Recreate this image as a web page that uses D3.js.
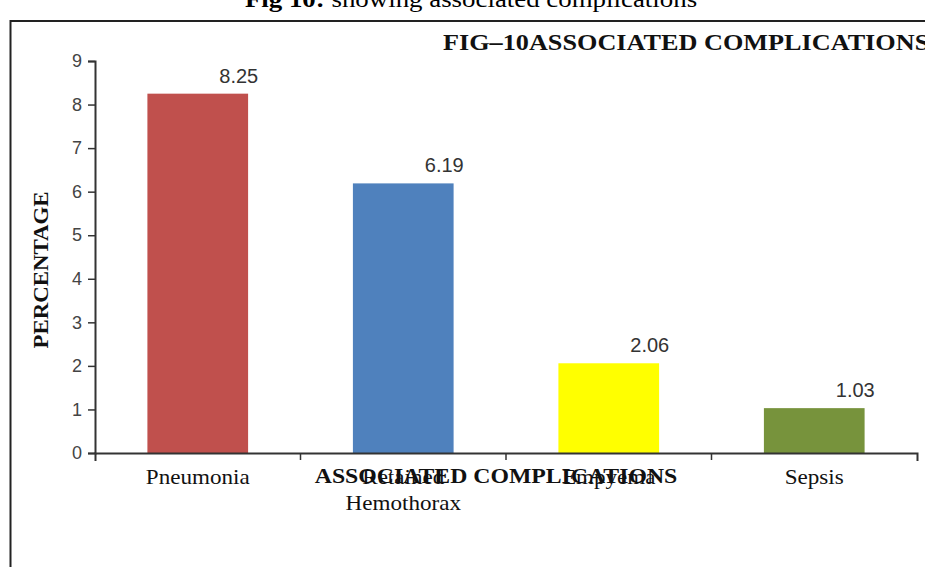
<!DOCTYPE html>
<html>
<head>
<meta charset="utf-8">
<script src="https://cdn.jsdelivr.net/npm/d3@7"></script>
<style>
  html, body { margin: 0; padding: 0; background: #fff; }
  svg { display: block; }
</style>
</head>
<body>
<script>
// Associated complications, percentage of cases
const categories = ["Pneumonia", "Retained Hemothorax", "Empyema", "Sepsis"];
const categoryLines = [["Pneumonia"], ["Retained", "Hemothorax"], ["Empyema"], ["Sepsis"]];
const values = [8.25, 6.19, 2.06, 1.03];
const valueLabels = ["8.25", "6.19", "2.06", "1.03"];
const barColors = ["#C0504D", "#4F81BD", "#FFFF00", "#77933C"];
const yTicks = [0, 1, 2, 3, 4, 5, 6, 7, 8, 9];

const W = 925, H = 567;
const svg = d3.select("body").append("svg").attr("width", W).attr("height", H);

const serif = "'Liberation Serif', 'Times New Roman', serif";
const sans = "'Liberation Sans', Arial, sans-serif";

// Serif text drawn slightly widened, as in the printed figure
function wideText(parent, px, py, size, sx, opts = {}) {
  return parent.append("text")
    .attr("transform", `translate(${px},${py})${opts.rotate ? " rotate(" + opts.rotate + ")" : ""} scale(${sx},1)`)
    .attr("text-anchor", opts.anchor || "middle")
    .attr("font-family", serif)
    .attr("font-size", size)
    .attr("font-weight", opts.bold ? "bold" : "normal")
    .attr("fill", opts.fill || "#111");
}

// Caption above the frame
const cap = wideText(svg, 471, 7, 24, 1.12, { fill: "#000" });
cap.append("tspan").attr("font-weight", "bold").text("Fig 10:");
cap.append("tspan").text(" showing associated complications");

// Frame
svg.append("path")
  .attr("d", "M10.5,567V21H925")
  .attr("fill", "none").attr("stroke", "#222").attr("stroke-width", 2);

// Scales
const x = d3.scaleBand().domain(categories).range([95, 917]).paddingInner(0).paddingOuter(0);
const y = d3.scaleLinear().domain([0, 9]).range([453, 61]);
const barW = x.bandwidth() * 0.49;

// Bars
svg.append("g").selectAll("rect").data(categories).join("rect")
  .attr("x", (d) => x(d) + (x.bandwidth() - barW) / 2)
  .attr("y", (d, i) => y(values[i]))
  .attr("width", barW)
  .attr("height", (d, i) => y(0) - y(values[i]))
  .attr("fill", (d, i) => barColors[i]);

// Value labels
svg.append("g").selectAll("text").data(categories).join("text")
  .attr("x", (d) => x(d) + x.bandwidth() / 2 + 41)
  .attr("y", (d, i) => y(values[i]) - 11)
  .attr("text-anchor", "middle")
  .attr("font-family", sans).attr("font-size", 20).attr("fill", "#333")
  .text((d, i) => valueLabels[i]);

// Y axis
const yAxis = svg.append("g").attr("transform", "translate(95,0)")
  .call(d3.axisLeft(y).tickValues(yTicks).tickFormat(d3.format("d")).tickSize(7).tickSizeOuter(7).tickPadding(6));
yAxis.select(".domain").attr("stroke", "#333").attr("stroke-width", 2);
yAxis.selectAll(".tick line").attr("stroke", "#333").attr("stroke-width", 1.5);
yAxis.selectAll(".tick text").attr("font-family", sans).attr("font-size", 18).attr("fill", "#444");

// X axis with dividing ticks between categories
const xAxis = svg.append("g").attr("transform", "translate(0,453)")
  .call(d3.axisBottom(x).tickValues([]).tickSizeOuter(8));
xAxis.select(".domain").attr("stroke", "#333").attr("stroke-width", 2);
xAxis.selectAll(".divider").data(categories.slice(1)).join("line")
  .attr("class", "divider")
  .attr("x1", (d) => x(d)).attr("x2", (d) => x(d))
  .attr("y1", 0).attr("y2", 7)
  .attr("stroke", "#333").attr("stroke-width", 1.5);

// Category labels
const catG = svg.append("g");
categories.forEach((c, i) => {
  const t = wideText(catG, x(c) + x.bandwidth() / 2, 484, 21, 1.1);
  categoryLines[i].forEach((line, j) => {
    t.append("tspan").attr("x", 0).attr("dy", j === 0 ? 0 : 26).text(line);
  });
});

// Axis titles
wideText(svg, 496, 483, 22, 1.08, { bold: true }).text("ASSOCIATED COMPLICATIONS");
wideText(svg, 48, 270, 22, 1.04, { bold: true, rotate: -90 }).text("PERCENTAGE");

// Chart title
wideText(svg, 443, 50, 23, 1.14, { bold: true, anchor: "start" })
  .text("FIG\u201310ASSOCIATED COMPLICATIONS");
</script>
</body>
</html>
